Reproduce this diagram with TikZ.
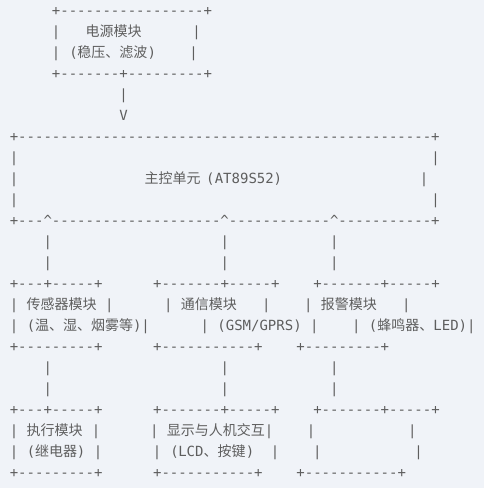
\documentclass[tikz,border=0pt]{standalone}
\usepackage{fontspec}
\newfontfamily\mono{DejaVu Sans Mono}
\newfontfamily\cjk{Noto Sans CJK SC}
\definecolor{bg}{HTML}{F0F3F8}
\definecolor{ink}{HTML}{5E5E5E}
\newcommand\dd[1]{\foreach\ddi in {1,...,#1}{-}}
\newcommand\up{\textasciicircum}
\tikzset{
  asc/.style={anchor=base west, inner sep=0pt, outer sep=0pt, text=ink, font=\mono\fontsize{14}{14}\selectfont},
  han/.style={asc, font=\cjk\fontsize{14}{14}\selectfont},
  ch/.style={anchor=base, inner sep=0pt, outer sep=0pt, text=ink, font=\mono\fontsize{14}{14}\selectfont},
}
\begin{document}
\begin{tikzpicture}[x=1pt,y=-1pt]
\fill[bg] (0,0) rectangle (484,488);
\useasboundingbox (0,0) rectangle (484,488);
% power module
\node[asc] (r1) at (51.95,15) {+\dd{17}+};
\node[ch] (r2a) at (56.15,36) {|};
\node[han] (r2t) at (85.7,36) {电源模块};
\node[ch] (r2b) at (196.5,36) {|};
\node[ch] (r3a) at (56.15,57) {|};
\node[ch] (r3p) at (73.5,57) {(};
\node[han] (r3t) at (77.3,57) {稳压、滤波};
\node[ch] (r3q) at (151.8,57) {)};
\node[ch] (r3b) at (193.7,57) {|};
\node[asc] (r4) at (51.95,78) {+\dd{7}+\dd{9}+};
\node[ch] (r5) at (123.59,99) {|};
\node[ch] (r6) at (123.59,120) {V};
% main control
\node[asc] (r7) at (9.8,141) {+\dd{49}+};
\node[ch] (r8a) at (14,162) {|};
\node[ch] (r8b) at (435.5,162) {|};
\node[ch] (r9a) at (14,183) {|};
\node[han] (r9t) at (144.7,183) {主控单元};
\node[ch] (r9p) at (210.3,183) {(};
\node[asc] (r9m) at (214.8,183) {AT89S52};
\node[ch] (r9q) at (277.8,183) {)};
\node[ch] (r9b) at (424.1,183) {|};
\node[ch] (r10a) at (14,204) {|};
\node[ch] (r10b) at (435.5,204) {|};
\node[asc] (r11) at (9.8,225) {+\dd{3}\up\dd{20}\up\dd{12}\up\dd{11}+};
% verticals
\foreach \y/\n in {246/12,267/13,372/18,393/19}{
  \node[ch] (v\n-a) at (47.72,\y) {|};
  \node[ch] (v\n-b) at (224.75,\y) {|};
  \node[ch] (v\n-c) at (334.34,\y) {|};
}
% box tops
\foreach \y/\n in {288/14,414/20}{
  \node[asc] (t\n-a) at (9.8,\y) {+\dd{3}+\dd{5}+};
  \node[asc] (t\n-b) at (153.11,\y) {+\dd{7}+\dd{5}+};
  \node[asc] (t\n-c) at (313.28,\y) {+\dd{7}+\dd{5}+};
}
% row 1 boxes
\node[ch] (r15a) at (14,309) {|};
\node[han] (r15t1) at (26.7,309) {传感器模块};
\node[ch] (r15b) at (109.3,309) {|};
\node[ch] (r15c) at (168.3,309) {|};
\node[han] (r15t2) at (180.9,309) {通信模块};
\node[ch] (r15d) at (266.4,309) {|};
\node[ch] (r15e) at (308.3,309) {|};
\node[han] (r15t3) at (320.9,309) {报警模块};
\node[ch] (r15f) at (406.4,309) {|};
\node[ch] (r16a) at (14,330) {|};
\node[ch] (r16p) at (31,330) {(};
\node[han] (r16t1) at (35.1,330) {温、湿、烟雾等};
\node[ch] (r16q) at (137.3,330) {)};
\node[ch] (r16b) at (145.7,330) {|};
\node[ch] (r16c) at (204.8,330) {|};
\node[asc] (r16m) at (217.4,330) {(GSM/GPRS)};
\node[ch] (r16d) at (314.3,330) {|};
\node[ch] (r16e) at (356.4,330) {|};
\node[ch] (r16p2) at (373.2,330) {(};
\node[han] (r16t2) at (377.4,330) {蜂鸣器、};
\node[asc] (r16l) at (433.4,330) {LED};
\node[ch] (r16q2) at (462.9,330) {)};
\node[ch] (r16f) at (471.3,330) {|};
\node[asc] (r17a) at (9.8,351) {+\dd{9}+};
\node[asc] (r17b) at (153.11,351) {+\dd{11}+};
\node[asc] (r17c) at (296.42,351) {+\dd{9}+};
% row 2 boxes
\node[ch] (r21a) at (14,435) {|};
\node[han] (r21t1) at (26.7,435) {执行模块};
\node[ch] (r21b) at (96,435) {|};
\node[ch] (r21c) at (154.3,435) {|};
\node[han] (r21t2) at (166.9,435) {显示与人机交互};
\node[ch] (r21d) at (269.1,435) {|};
\node[ch] (r21e) at (311.2,435) {|};
\node[ch] (r21f) at (412.3,435) {|};
\node[ch] (r22a) at (14,456) {|};
\node[ch] (r22p) at (31,456) {(};
\node[han] (r22t1) at (35.1,456) {继电器};
\node[ch] (r22q) at (81,456) {)};
\node[ch] (r22b) at (98.2,456) {|};
\node[ch] (r22c) at (157.2,456) {|};
\node[ch] (r22p2) at (174.5,456) {(};
\node[asc] (r22l) at (178.3,456) {LCD};
\node[han] (r22t2) at (203.6,456) {、按键};
\node[ch] (r22q2) at (250,456) {)};
\node[ch] (r22d) at (275.1,456) {|};
\node[ch] (r22e) at (317.4,456) {|};
\node[ch] (r22f) at (418.5,456) {|};
\node[asc] (r23a) at (9.8,477) {+\dd{9}+};
\node[asc] (r23b) at (153.11,477) {+\dd{11}+};
\node[asc] (r23c) at (296.42,477) {+\dd{11}+};
\end{tikzpicture}
\end{document}
